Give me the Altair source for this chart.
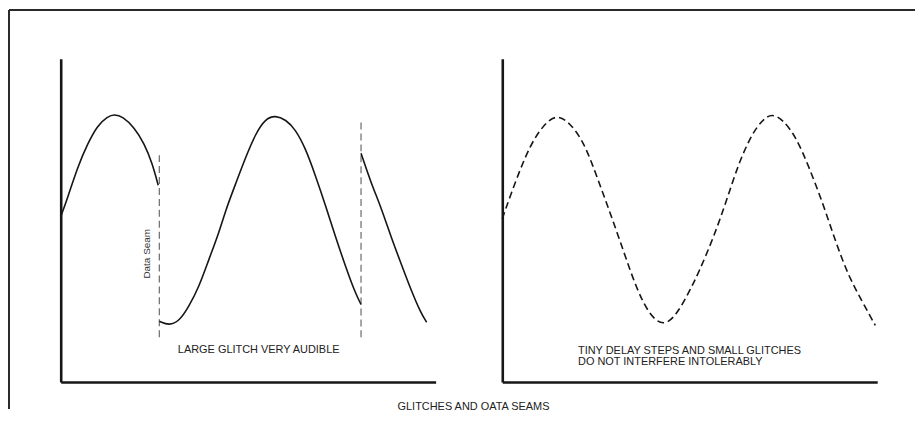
import altair as alt
import pandas as pd

# ---------------- data (x: 0-100 along time axis, y: 0-100 along amplitude axis) ----------------
# Left panel: waveform split into three segments at the data seams
seg1_x = [0.0, 1.9, 4.5, 7.2, 9.8, 12.5, 14.3, 16.5, 19.6, 22.3, 24.4, 26.0]
seg1_y = [51.1, 57.2, 66.5, 73.8, 79.4, 82.2, 82.8, 82.2, 78.8, 73.8, 67.7, 60.9]
seg2_x = [26.3, 28.9, 31.6, 34.2, 36.9, 39.5, 42.2, 44.0, 46.7, 49.3, 52.0, 54.6, 57.3,
          60.0, 62.6, 65.3, 67.9, 70.6, 73.2, 75.9, 78.5, 80.1]
seg2_y = [18.8, 17.5, 18.8, 23.4, 29.5, 37.9, 46.2, 53.2, 61.5, 69.5, 76.9, 81.5, 82.5,
          81.2, 78.2, 72.3, 64.0, 54.8, 45.2, 36.0, 27.7, 24.0]
seg3_x = [80.1, 82.8, 85.4, 88.1, 90.7, 93.4, 96.0, 97.6]
seg3_y = [70.8, 61.5, 54.2, 44.9, 36.9, 28.6, 21.5, 18.5]

seam_x = [26.3, 80.1]
seam_top = [70.2, 80.3]
seam_bottom = [12.9, 13.5]

# Right panel: continuous (dashed) waveform
right_x = [0.0, 2.1, 4.8, 7.4, 10.1, 14.1, 18.0, 21.8, 25.2, 28.7, 32.4, 35.8, 39.3, 43.0,
           46.4, 49.9, 52.5, 56.2, 59.7, 63.1, 66.8, 69.5, 71.9, 74.8, 78.3, 81.7, 85.4,
           88.9, 92.3, 96.0, 99.5]
right_y = [50.5, 57.5, 65.9, 72.9, 78.2, 83.1, 80.3, 74.2, 63.7, 52.6, 40.3, 28.9, 20.6, 17.2,
           20.6, 28.0, 34.2, 44.3, 55.7, 68.0, 77.2, 81.2, 83.1, 81.2, 76.0, 66.8, 55.7,
           43.4, 32.9, 24.9, 17.5]

# Texts
left_label = "LARGE GLITCH VERY AUDIBLE"
seam_label = "Data Seam"
right_lines = ["TINY DELAY STEPS AND SMALL GLITCHES", "DO NOT INTERFERE INTOLERABLY"]
caption = "GLITCHES AND OATA SEAMS"

# ---------------- build ----------------
FONT = "Liberation Sans"
INK = "#161616"

xs = alt.Scale(domain=[0, 100], nice=False, zero=False)
ys = alt.Scale(domain=[0, 100], nice=False, zero=False)
ax = alt.Axis(domain=True, domainColor=INK, domainWidth=2.6, ticks=False, labels=False,
              grid=False, title="")

seg_df = pd.DataFrame({
    "x": seg1_x + seg2_x + seg3_x,
    "y": seg1_y + seg2_y + seg3_y,
    "segment": ["a"] * len(seg1_x) + ["b"] * len(seg2_x) + ["c"] * len(seg3_x),
})
seam_df = pd.DataFrame({"x": seam_x, "top": seam_top, "bottom": seam_bottom})

one = pd.DataFrame({"k": [0]})

frame_v = alt.Chart(one).mark_rule(color="#2a2a2a", strokeWidth=2).encode(
    x=alt.value(-52), y=alt.value(-49), y2=alt.value(352))
frame_h = alt.Chart(one).mark_rule(color="#2a2a2a", strokeWidth=2).encode(
    x=alt.value(-52), x2=alt.value(859), y=alt.value(-49))

left_line = alt.Chart(seg_df).mark_line(color=INK, strokeWidth=1.6, interpolate="basis").encode(
    x=alt.X("x:Q", scale=xs, axis=ax),
    y=alt.Y("y:Q", scale=ys, axis=ax),
    detail="segment:N",
)
seams = alt.Chart(seam_df).mark_rule(color="#6a6a6a", strokeWidth=1.2, strokeDash=[7, 4]).encode(
    x=alt.X("x:Q", scale=xs),
    y=alt.Y("top:Q", scale=ys),
    y2="bottom:Q",
)
seam_text = alt.Chart(pd.DataFrame({"x": [23.1], "y": [39.7], "t": [seam_label]})).mark_text(
    font=FONT, fontSize=10, color="#333", angle=270, align="center", baseline="middle"
).encode(x=alt.X("x:Q", scale=xs), y=alt.Y("y:Q", scale=ys), text="t:N")
left_text = alt.Chart(pd.DataFrame({"x": [52.8], "y": [9.8], "t": [left_label]})).mark_text(
    font=FONT, fontSize=11, color="#222", align="center", baseline="middle"
).encode(x=alt.X("x:Q", scale=xs), y=alt.Y("y:Q", scale=ys), text="t:N")
cap_text = alt.Chart(pd.DataFrame({"x": [110.1], "y": [-7.6], "t": [caption]})).mark_text(
    font=FONT, fontSize=11, color="#222", align="center", baseline="middle"
).encode(x=alt.X("x:Q", scale=xs), y=alt.Y("y:Q", scale=ys), text="t:N")

left = alt.layer(frame_v, frame_h, seams, left_line, seam_text, left_text, cap_text).properties(
    width=377, height=325)

right_df = pd.DataFrame({"x": right_x, "y": right_y})
right_line = alt.Chart(right_df).mark_line(color=INK, strokeWidth=1.6, strokeDash=[7, 4],
                                           interpolate="basis").encode(
    x=alt.X("x:Q", scale=xs, axis=ax),
    y=alt.Y("y:Q", scale=ys, axis=ax),
)
right_text = alt.Chart(pd.DataFrame({"x": [20.2, 20.2], "y": [9.5, 6.1], "t": right_lines})).mark_text(
    font=FONT, fontSize=11, color="#222", align="left", baseline="middle"
).encode(x=alt.X("x:Q", scale=xs), y=alt.Y("y:Q", scale=ys), text="t:N")

right = alt.layer(right_line, right_text).properties(width=377, height=325)

chart = alt.hconcat(left, right, spacing=67, bounds="flush").properties(
    padding=0, background="white"
).configure_view(strokeWidth=0)

chart.save("out.html", embed_options={"renderer": "svg", "actions": False})
